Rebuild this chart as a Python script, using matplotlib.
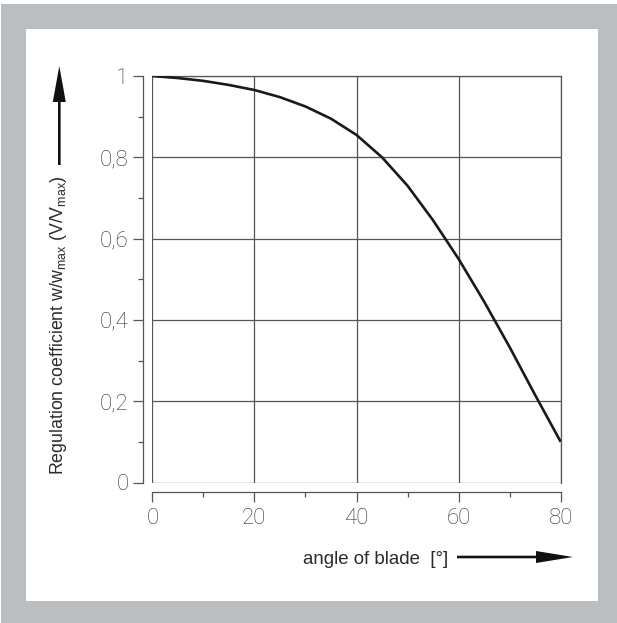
import matplotlib
matplotlib.use("Agg")
import matplotlib.pyplot as plt
from matplotlib.patches import Rectangle, FancyArrow
from matplotlib.ticker import FixedLocator, FixedFormatter

# ---- data ----
angle = [0, 5, 10, 15, 20, 25, 30, 35, 40, 45, 50, 55, 60, 65, 70, 75, 80]
coef = [1.0, 0.995, 0.988, 0.978, 0.9655, 0.948, 0.925, 0.895, 0.855, 0.80,
        0.73, 0.645, 0.55, 0.445, 0.333, 0.215, 0.10]
x_major = [0, 20, 40, 60, 80]
x_minor = [10, 30, 50, 70]
x_labels = ["0", "20", "40", "60", "80"]
y_major = [0, 0.2, 0.4, 0.6, 0.8, 1.0]
y_minor = [0.1, 0.3, 0.5, 0.7, 0.9]
y_labels = ["0", "0,2", "0,4", "0,6", "0,8", "1"]
x_title = "angle of blade  [°]"
y_title = r"Regulation coefficient w/w$_{\mathrm{max}}$ (V/V$_{\mathrm{max}}$)"

plt.rcParams["font.family"] = ["Liberation Sans", "DejaVu Sans"]
plt.rcParams["mathtext.fontset"] = "custom"
plt.rcParams["mathtext.rm"] = "Liberation Sans"
plt.rcParams["mathtext.it"] = "Liberation Sans:italic"
plt.rcParams["mathtext.bf"] = "Liberation Sans:bold"

W, H = 617, 623
DPI = 100
fig = plt.figure(figsize=(W / DPI, H / DPI), dpi=DPI, facecolor="white")

GREY = "#bbbec1"
LINE = "#555555"
TXT = "#2a2a2a"


def fx(px):
    return px / W


def fy(py):
    return 1 - py / H


# background frame
fig.patches.append(Rectangle((fx(1), 0), 1, fy(4), transform=fig.transFigure,
                             facecolor=GREY, edgecolor="none", zorder=-10))
fig.patches.append(Rectangle((fx(26), fy(601)), fx(598) - fx(26), fy(29) - fy(601),
                             transform=fig.transFigure, facecolor="white",
                             edgecolor="none", zorder=-9))

left, right, top, bottom = 152.3, 560.7, 76.0, 482.5
ax = fig.add_axes([fx(left), fy(bottom), fx(right) - fx(left), fy(top) - fy(bottom)])
ax.set_facecolor("white")
ax.set_xlim(0, 80)
ax.set_ylim(0, 1)

ax.plot(angle, coef, color="#1a1a1a", lw=1.9, zorder=5, solid_capstyle="butt")

ax.xaxis.set_major_locator(FixedLocator(x_major))
ax.xaxis.set_minor_locator(FixedLocator(x_minor))
ax.xaxis.set_major_formatter(FixedFormatter(x_labels))
ax.yaxis.set_major_locator(FixedLocator(y_major))
ax.yaxis.set_minor_locator(FixedLocator(y_minor))
ax.yaxis.set_major_formatter(FixedFormatter(y_labels))

ax.grid(True, which="major", color=LINE, lw=0.9)
ax.set_axisbelow(True)

for s in ["top", "right"]:
    ax.spines[s].set_color(LINE)
    ax.spines[s].set_linewidth(0.9)
ax.spines["left"].set_position(("outward", 9 * 0.72))
ax.spines["bottom"].set_position(("outward", 9.5 * 0.72))
for s in ["left", "bottom"]:
    ax.spines[s].set_color(LINE)
    ax.spines[s].set_linewidth(0.9)

ax.tick_params(which="major", length=10 * 0.72, width=0.9, color=LINE,
               direction="out")
ax.tick_params(which="minor", length=5 * 0.72, width=0.9, color=LINE,
               direction="out")
ax.tick_params(axis="y", which="major", pad=3.4)
ax.tick_params(axis="x", which="major", pad=4.0)
for lab in ax.get_xticklabels() + ax.get_yticklabels():
    lab.set_fontfamily(["Roboto", "Liberation Sans", "DejaVu Sans"])
    lab.set_fontweight("light")
    lab.set_fontsize(16)
    lab.set_color("#333333")

# axis titles
fig.text(fx(58.5), fy(325.5), y_title, rotation=90, ha="center", va="center",
         fontsize=12.8, color=TXT)
fig.text(fx(303), fy(564), x_title, ha="left", va="baseline",
         fontsize=13.4, color=TXT)

# arrows (pixel geometry converted to inches)
def arrow(x0, y0, x1, y1, head_len, head_w, shaft_w):
    dx = (x1 - x0) / DPI
    dy = -(y1 - y0) / DPI
    a = FancyArrow(x0 / DPI, (H - y0) / DPI, dx, dy, width=shaft_w / DPI,
                   head_width=head_w / DPI, head_length=head_len / DPI,
                   length_includes_head=True, transform=fig.dpi_scale_trans,
                   color="#111111", lw=0)
    fig.patches.append(a)

arrow(59.3, 165, 59.3, 66.0, 36, 13, 2.6)
arrow(457, 557, 573, 557, 37, 12, 2.6)

fig.savefig("out.png", dpi=DPI, facecolor=fig.get_facecolor())
